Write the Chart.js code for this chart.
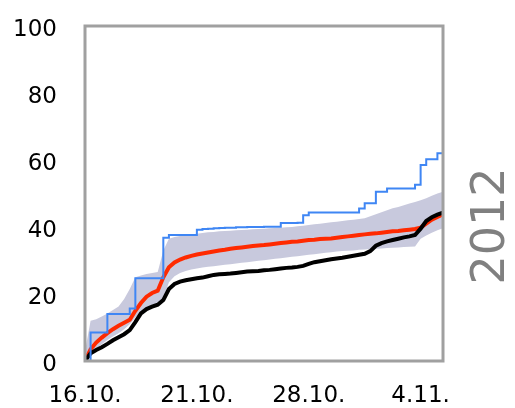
<!DOCTYPE html>
<html>
<head>
<meta charset="utf-8">
<script src="https://cdn.jsdelivr.net/npm/chart.js@4.4.1/dist/chart.umd.min.js"></script>
<style>
  html, body { margin: 0; padding: 0; background: #fff; }
  canvas { display: block; }
</style>
</head>
<body>
<canvas id="chart" width="515" height="408"></canvas>
<script>
// day labels placed every 20 steps along the x axis
const xTickLabels = ["16.10.", "21.10.", "28.10.", "4.11."];
const yearLabel = "2012";

// cumulative values, one per step
const blueSeries = [
  0, 8.5, 8.5, 8.5, 14.0, 14.0, 14.0, 14.0, 15.7, 24.7,
  24.7, 24.7, 24.7, 24.7, 36.8, 37.6, 37.6, 37.6, 37.6, 37.6,
  39.2, 39.4, 39.5, 39.6, 39.7, 39.8, 39.8, 39.9, 39.9, 40.0,
  40.0, 40.0, 40.1, 40.1, 40.1, 41.2, 41.2, 41.2, 41.3, 43.5,
  44.3, 44.3, 44.3, 44.3, 44.3, 44.3, 44.3, 44.3, 44.3, 45.5,
  47.1, 47.1, 50.5, 50.5, 51.5, 51.5, 51.5, 51.5, 51.5, 52.6,
  58.5, 60.2, 60.2, 62.0, 62.0
];
const redSeries = [
  0, 3.5, 5.5, 7.0, 8.3, 9.5, 10.5, 11.4, 12.3, 15.0,
  17.3, 19.2, 20.3, 21.0, 25.0, 28.0, 29.4, 30.3, 30.9, 31.4,
  31.8, 32.1, 32.4, 32.7, 33.0, 33.2, 33.5, 33.7, 33.9, 34.1,
  34.3, 34.5, 34.6, 34.8, 35.0, 35.2, 35.4, 35.6, 35.7, 35.9,
  36.1, 36.2, 36.4, 36.5, 36.6, 36.8, 37.0, 37.2, 37.4, 37.6,
  37.8, 38.0, 38.1, 38.3, 38.5, 38.7, 38.8, 39.0, 39.2, 39.4,
  39.8, 41.0, 42.2, 43.0, 43.8
];
const blackSeries = [
  0, 2.3, 3.3, 4.1, 5.1, 6.2, 7.1, 8.0, 9.2, 11.6,
  14.2, 15.5, 16.2, 16.8, 18.2, 21.5, 23.0, 23.7, 24.1, 24.4,
  24.7, 24.9, 25.3, 25.7, 25.9, 26.0, 26.1, 26.3, 26.5, 26.7,
  26.8, 26.9, 27.1, 27.2, 27.4, 27.6, 27.8, 27.9, 28.1, 28.4,
  29.0, 29.5, 29.8, 30.1, 30.4, 30.6, 30.8, 31.1, 31.4, 31.7,
  32.0, 32.8, 34.4, 35.2, 35.7, 36.1, 36.5, 36.9, 37.2, 37.6,
  39.5, 41.8, 42.9, 43.7, 44.3
];
const bandHigh = [
  3.0, 12.0, 12.5, 13.3, 14.2, 15.2, 16.3, 18.5, 21.5, 25.0,
  25.5, 26.0, 26.3, 26.6, 33.0, 36.5, 37.0, 37.3, 37.6, 37.8,
  38.0, 38.2, 38.4, 38.5, 38.7, 38.8, 38.9, 39.0, 39.1, 39.2,
  39.3, 39.4, 39.5, 39.6, 39.7, 39.8, 39.9, 40.0, 40.2, 40.4,
  40.6, 40.8, 41.0, 41.2, 41.4, 41.6, 41.8, 42.0, 42.2, 42.4,
  42.6, 43.2, 43.8, 44.4, 45.0, 45.6, 46.0, 46.5, 47.0, 47.5,
  48.0, 48.6, 49.3, 50.0, 50.5
];
const bandLow = [
  0, 1.5, 3.5, 5.0, 6.3, 7.3, 8.3, 9.5, 11.0, 13.0,
  14.5, 15.7, 16.7, 17.5, 18.5, 23.5, 25.3, 26.3, 26.9, 27.3,
  27.6, 27.9, 28.1, 28.3, 28.5, 28.7, 28.9, 29.1, 29.3, 29.5,
  29.7, 29.9, 30.1, 30.3, 30.5, 30.7, 30.9, 31.1, 31.3, 31.5,
  31.7, 31.9, 32.1, 32.3, 32.5, 32.7, 32.8, 32.9, 33.0, 33.2,
  33.3, 33.4, 33.5, 33.6, 33.7, 33.8, 33.9, 34.0, 34.1, 34.2,
  36.5, 37.5, 38.3, 39.0, 39.6
];

const toPoints = (arr) => arr.map((v, i) => ({ x: i, y: v }));
const lastStep = blueSeries.length - 1;

// grey frame round the plot area and the rotated year on the right
const framePlugin = {
  id: "frame",
  afterDatasetsDraw(chart) {
    const { ctx, chartArea: a } = chart;
    ctx.save();
    ctx.strokeStyle = "#a0a0a0";
    ctx.lineWidth = 3;
    ctx.strokeRect(a.left, a.top, a.right - a.left, a.bottom - a.top);
    ctx.restore();
  },
  afterDraw(chart) {
    const ctx = chart.ctx;
    ctx.save();
    ctx.translate(492, 226);
    ctx.rotate(-Math.PI / 2);
    ctx.fillStyle = "#808080";
    ctx.font = "46px 'DejaVu Sans'";
    ctx.textAlign = "center";
    ctx.textBaseline = "middle";
    ctx.fillText(yearLabel, 0, 0);
    ctx.restore();
  }
};

const tickFont = { family: "'DejaVu Sans'", size: 23, lineHeight: 1.0 };

new Chart(document.getElementById("chart"), {
  type: "line",
  data: {
    datasets: [
      {
        label: "blue",
        data: toPoints(blueSeries),
        borderColor: "#3f86f4",
        borderWidth: 2,
        stepped: "before",
        fill: false
      },
      {
        label: "black",
        data: toPoints(blackSeries),
        borderColor: "#000000",
        borderWidth: 4,
        fill: false
      },
      {
        label: "red",
        data: toPoints(redSeries),
        borderColor: "#ff2a00",
        borderWidth: 4,
        fill: false
      },
      {
        label: "band high",
        data: toPoints(bandHigh),
        borderWidth: 0,
        borderColor: "rgba(0,0,0,0)",
        backgroundColor: "#c8c9dd",
        fill: "+1"
      },
      {
        label: "band low",
        data: toPoints(bandLow),
        borderWidth: 0,
        borderColor: "rgba(0,0,0,0)",
        fill: false
      }
    ]
  },
  options: {
    responsive: false,
    animation: false,
    layout: { padding: { left: 0, right: 72, top: 26, bottom: 0 } },
    elements: { point: { radius: 0 }, line: { tension: 0 } },
    plugins: { legend: { display: false }, tooltip: { enabled: false } },
    scales: {
      x: {
        type: "linear",
        min: 0,
        max: lastStep,
        grid: { display: false, drawTicks: false },
        border: { display: false },
        afterFit: (scale) => { scale.height = 47; },
        ticks: {
          stepSize: 20,
          includeBounds: false,
          autoSkip: false,
          maxRotation: 0,
          padding: 24,
          color: "#000",
          font: tickFont,
          callback: (v) => xTickLabels[v / 20]
        }
      },
      y: {
        min: 0,
        max: 100,
        grid: { display: false, drawTicks: false },
        border: { display: false },
        afterFit: (scale) => {
          // the tick padding is horizontal only; keep it out of the vertical layout
          scale.width = 85;
          scale.paddingTop = 0;
          scale.paddingBottom = 0;
        },
        ticks: {
          stepSize: 20,
          padding: 28,
          labelOffset: 4,
          color: "#000",
          font: tickFont
        }
      }
    }
  },
  plugins: [framePlugin]
});
</script>
</body>
</html>
